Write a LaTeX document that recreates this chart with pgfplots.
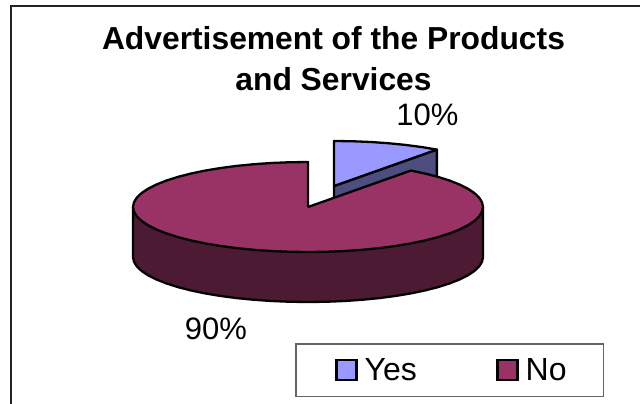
\documentclass[border=0pt]{standalone}
\usepackage{pgfplots}
\usepackage{pgfplotstable}
\usepackage{fontspec}
\setmainfont{Liberation Sans}
\pgfplotsset{compat=1.18}
\definecolor{yestop}{HTML}{9999FF}
\definecolor{yesside}{HTML}{4D4D80}
\definecolor{notop}{HTML}{993366}
\definecolor{noside}{HTML}{4D1A33}
\definecolor{framecol}{HTML}{222222}
\definecolor{legendedge}{HTML}{666666}

% Top face of the "No" slice: 90 % of the turn, 324 degrees in 6-degree steps
\pgfplotstableread{
x y
308 207
410.87 170.59
425.10 173.56
438.05 176.89
449.58 180.55
459.55 184.5
467.87 188.70
474.44 193.09
479.17 197.64
482.04 202.30
483 207
482.04 211.70
479.17 216.36
474.44 220.91
467.87 225.30
459.55 229.5
449.58 233.45
438.05 237.11
425.10 240.44
410.87 243.41
395.5 245.97
379.17 248.11
362.08 249.80
344.38 251.02
326.29 251.75
308 252
289.71 251.75
271.62 251.02
253.92 249.80
236.83 248.11
220.5 245.97
205.13 243.41
190.90 240.44
177.95 237.11
166.42 233.45
156.45 229.5
148.13 225.30
141.56 220.91
136.83 216.36
133.96 211.70
133 207
133.96 202.30
136.83 197.64
141.56 193.09
148.13 188.70
156.45 184.5
166.42 180.55
177.95 176.89
190.90 173.56
205.13 170.59
220.5 168.03
236.83 165.89
253.92 164.20
271.62 162.98
289.71 162.25
308 162
308 207
}\notop

% Outer wall of the "No" slice, front half, 50 units deep
\pgfplotstableread{
x y
483 207
483 257
482.04 261.70
479.17 266.36
474.44 270.91
467.87 275.30
459.55 279.5
449.58 283.45
438.05 287.11
425.10 290.44
410.87 293.41
395.5 295.97
379.17 298.11
362.08 299.80
344.38 301.02
326.29 301.75
308 302
289.71 301.75
271.62 301.02
253.92 299.80
236.83 298.11
220.5 295.97
205.13 293.41
190.90 290.44
177.95 287.11
166.42 283.45
156.45 279.5
148.13 275.30
141.56 270.91
136.83 266.36
133.96 261.70
133 257
133 207
483 207
}\noside

% Top face of the pulled-out "Yes" slice: 10 % of the turn, 36 degrees
\pgfplotstableread{
x y
334 186
334 141
352.29 141.25
370.38 141.98
388.08 143.20
405.17 144.89
421.5 147.03
436.87 149.59
334 186
}\yestop

% Cut face of the "Yes" slice
\pgfplotstableread{
x y
334 186
436.87 149.59
436.87 199.59
334 236
334 186
}\yesside

\begin{document}
\begin{tikzpicture}
\begin{axis}[
  name=pie,
  scale only axis, width=640pt, height=404pt,
  xmin=0, xmax=640, ymin=0, ymax=404, y dir=reverse,
  hide axis,
  legend columns=2,
  legend cell align=left,
  legend image code/.code={
    \path (-3pt,0pt);
    \draw[#1, draw=black, line width=2.2pt] (0pt,-10pt) rectangle (20pt,10pt);
  },
  legend style={
    at={(axis cs:295,343)}, anchor=north west,
    draw=legendedge, line width=1.5pt,
    font=\fontsize{32}{35}\selectfont,
    inner xsep=37pt, inner ysep=14.5pt,
    nodes={inner xsep=0pt, inner ysep=0pt},
    /tikz/every odd column/.append style={column sep=7pt},
    /tikz/every even column/.append style={column sep=77pt},
  },
]
% Chart area frame, running off the right and bottom edges
\addplot[forget plot, framecol, line width=2pt] coordinates {(11,404) (11,6) (640,6)};

\addplot[forget plot, fill=yesside, draw=black, line width=2.3pt, line join=round] table {\yesside};
\addplot[forget plot, fill=yestop, draw=black, line width=2.3pt, line join=round] table {\yestop};
\addplot[forget plot, fill=noside, draw=black, line width=2.3pt, line join=round] table {\noside};
\addplot[forget plot, fill=notop, draw=black, line width=2.3pt, line join=round] table {\notop};

\addlegendimage{fill=yestop}
\addlegendentry{Yes}
\addlegendimage{fill=notop}
\addlegendentry{No}

\node[anchor=base, align=center, font=\fontsize{31.8}{41}\selectfont\bfseries] at (axis cs:333.5,91)
  {Advertisement of the Products\\and Services};
\node[anchor=base, font=\fontsize{31}{34}\selectfont] at (axis cs:427.5,125) {10\%};
\node[anchor=base, font=\fontsize{31}{34}\selectfont] at (axis cs:216,339) {90\%};
\end{axis}
% The page is exactly the axis rectangle
\pgfresetboundingbox
\path[use as bounding box] (pie.south west) rectangle (pie.north east);
\end{tikzpicture}
\end{document}
